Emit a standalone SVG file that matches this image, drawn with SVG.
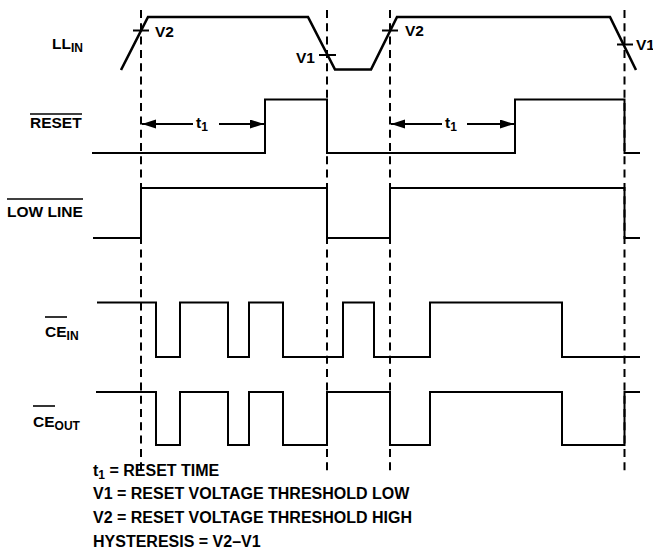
<svg xmlns="http://www.w3.org/2000/svg" width="653" height="548" viewBox="0 0 653 548">
<style>
text{font-family:"Liberation Sans",Arial,sans-serif;font-weight:bold;font-size:15.5px;fill:#000}
.sub{font-size:12px}
.note{font-size:16px}
.wave{fill:none;stroke:#000;stroke-width:2;stroke-linejoin:miter}
.ll{stroke-width:2.6}
.dash{stroke:#000;stroke-width:2;stroke-dasharray:8 5.3;fill:none}
.tick{stroke:#000;stroke-width:2}
.ovl{stroke:#000;stroke-width:1.6}
.arr{stroke:#000;stroke-width:2;fill:none}
</style>
<defs>
<marker id="ah" markerUnits="userSpaceOnUse" markerWidth="15" markerHeight="10" refX="14" refY="4.5" orient="auto-start-reverse">
<path d="M0,0 L14,4.5 L0,9 z" fill="#000"/>
</marker>
</defs>
<g id="guides">
<line class="dash" x1="141" y1="10" x2="141" y2="473"/>
<line class="dash" x1="327" y1="10" x2="327" y2="473"/>
<line class="dash" x1="390" y1="10" x2="390" y2="473"/>
<line class="dash" x1="624.5" y1="10" x2="624.5" y2="473"/>
</g>
<g id="LL_IN">
<text x="52" y="49">LL<tspan class="sub" dy="3">IN</tspan></text>
<path class="wave ll" d="M121,70 L148,17 L308,17 L335,69.5 L371,69.5 L397,17 L610,17 L636,70"/>
<line class="tick" x1="133" y1="30.5" x2="149" y2="30.5"/>
<text x="155" y="36.5">V2</text>
<line class="tick" x1="319" y1="55" x2="336" y2="55"/>
<text x="296" y="62.5">V1</text>
<line class="tick" x1="382" y1="30.5" x2="398" y2="30.5"/>
<text x="405" y="36">V2</text>
<line class="tick" x1="617" y1="44.5" x2="633" y2="44.5"/>
<text x="636" y="50">V1</text>
</g>
<g id="RESET">
<text x="30" y="128">RESET</text>
<line class="ovl" x1="30" y1="114" x2="82" y2="114"/>
<path class="wave" d="M92,153 H265 V99.5 H327 V153 H515 V99.5 H624.5 V153 H640"/>
</g>
<g id="connectors">
<line class="arr" x1="142" y1="124" x2="193" y2="124" marker-start="url(#ah)"/>
<line class="arr" x1="219" y1="124" x2="264" y2="124" marker-end="url(#ah)"/>
<line class="arr" x1="391" y1="124" x2="442" y2="124" marker-start="url(#ah)"/>
<line class="arr" x1="467" y1="124" x2="514" y2="124" marker-end="url(#ah)"/>
</g>
<g id="t1-labels">
<text x="196" y="128">t<tspan class="sub" dy="3">1</tspan></text>
<text x="445" y="128">t<tspan class="sub" dy="3">1</tspan></text>
</g>
<g id="LOW_LINE">
<text x="7" y="217">LOW LINE</text>
<line class="ovl" x1="7" y1="199" x2="83" y2="199"/>
<path class="wave" d="M93,238 H141 V188 H327 V238 H390 V188 H624.5 V238 H640"/>
</g>
<g id="CE_IN">
<text x="45" y="337">CE<tspan class="sub" dy="3">IN</tspan></text>
<line class="ovl" x1="45" y1="317" x2="67" y2="317"/>
<path class="wave" d="M97,302.5 H156 V357 H180 V302.5 H228 V357 H249 V302.5 H283 V357 H343 V302.5 H374 V357 H430 V302.5 H562 V357 H640"/>
</g>
<g id="CE_OUT">
<text x="33" y="427">CE<tspan class="sub" dy="3">OUT</tspan></text>
<line class="ovl" x1="33" y1="406" x2="55" y2="406"/>
<path class="wave" d="M96,392 H156 V445 H180 V392 H228 V445 H249 V392 H283 V445 H327 V392 H390 V445 H430 V392 H562 V445 H624.5 V392 H640"/>
</g>
<g id="notes">
<text class="note" x="93" y="475.5">t<tspan class="sub" dy="3">1</tspan><tspan dy="-3"> = RESET TIME</tspan></text>
<text class="note" x="93" y="499">V1 = RESET VOLTAGE THRESHOLD LOW</text>
<text class="note" x="93" y="523">V2 = RESET VOLTAGE THRESHOLD HIGH</text>
<text class="note" x="93" y="546.5">HYSTERESIS = V2–V1</text>
</g>
</svg>
